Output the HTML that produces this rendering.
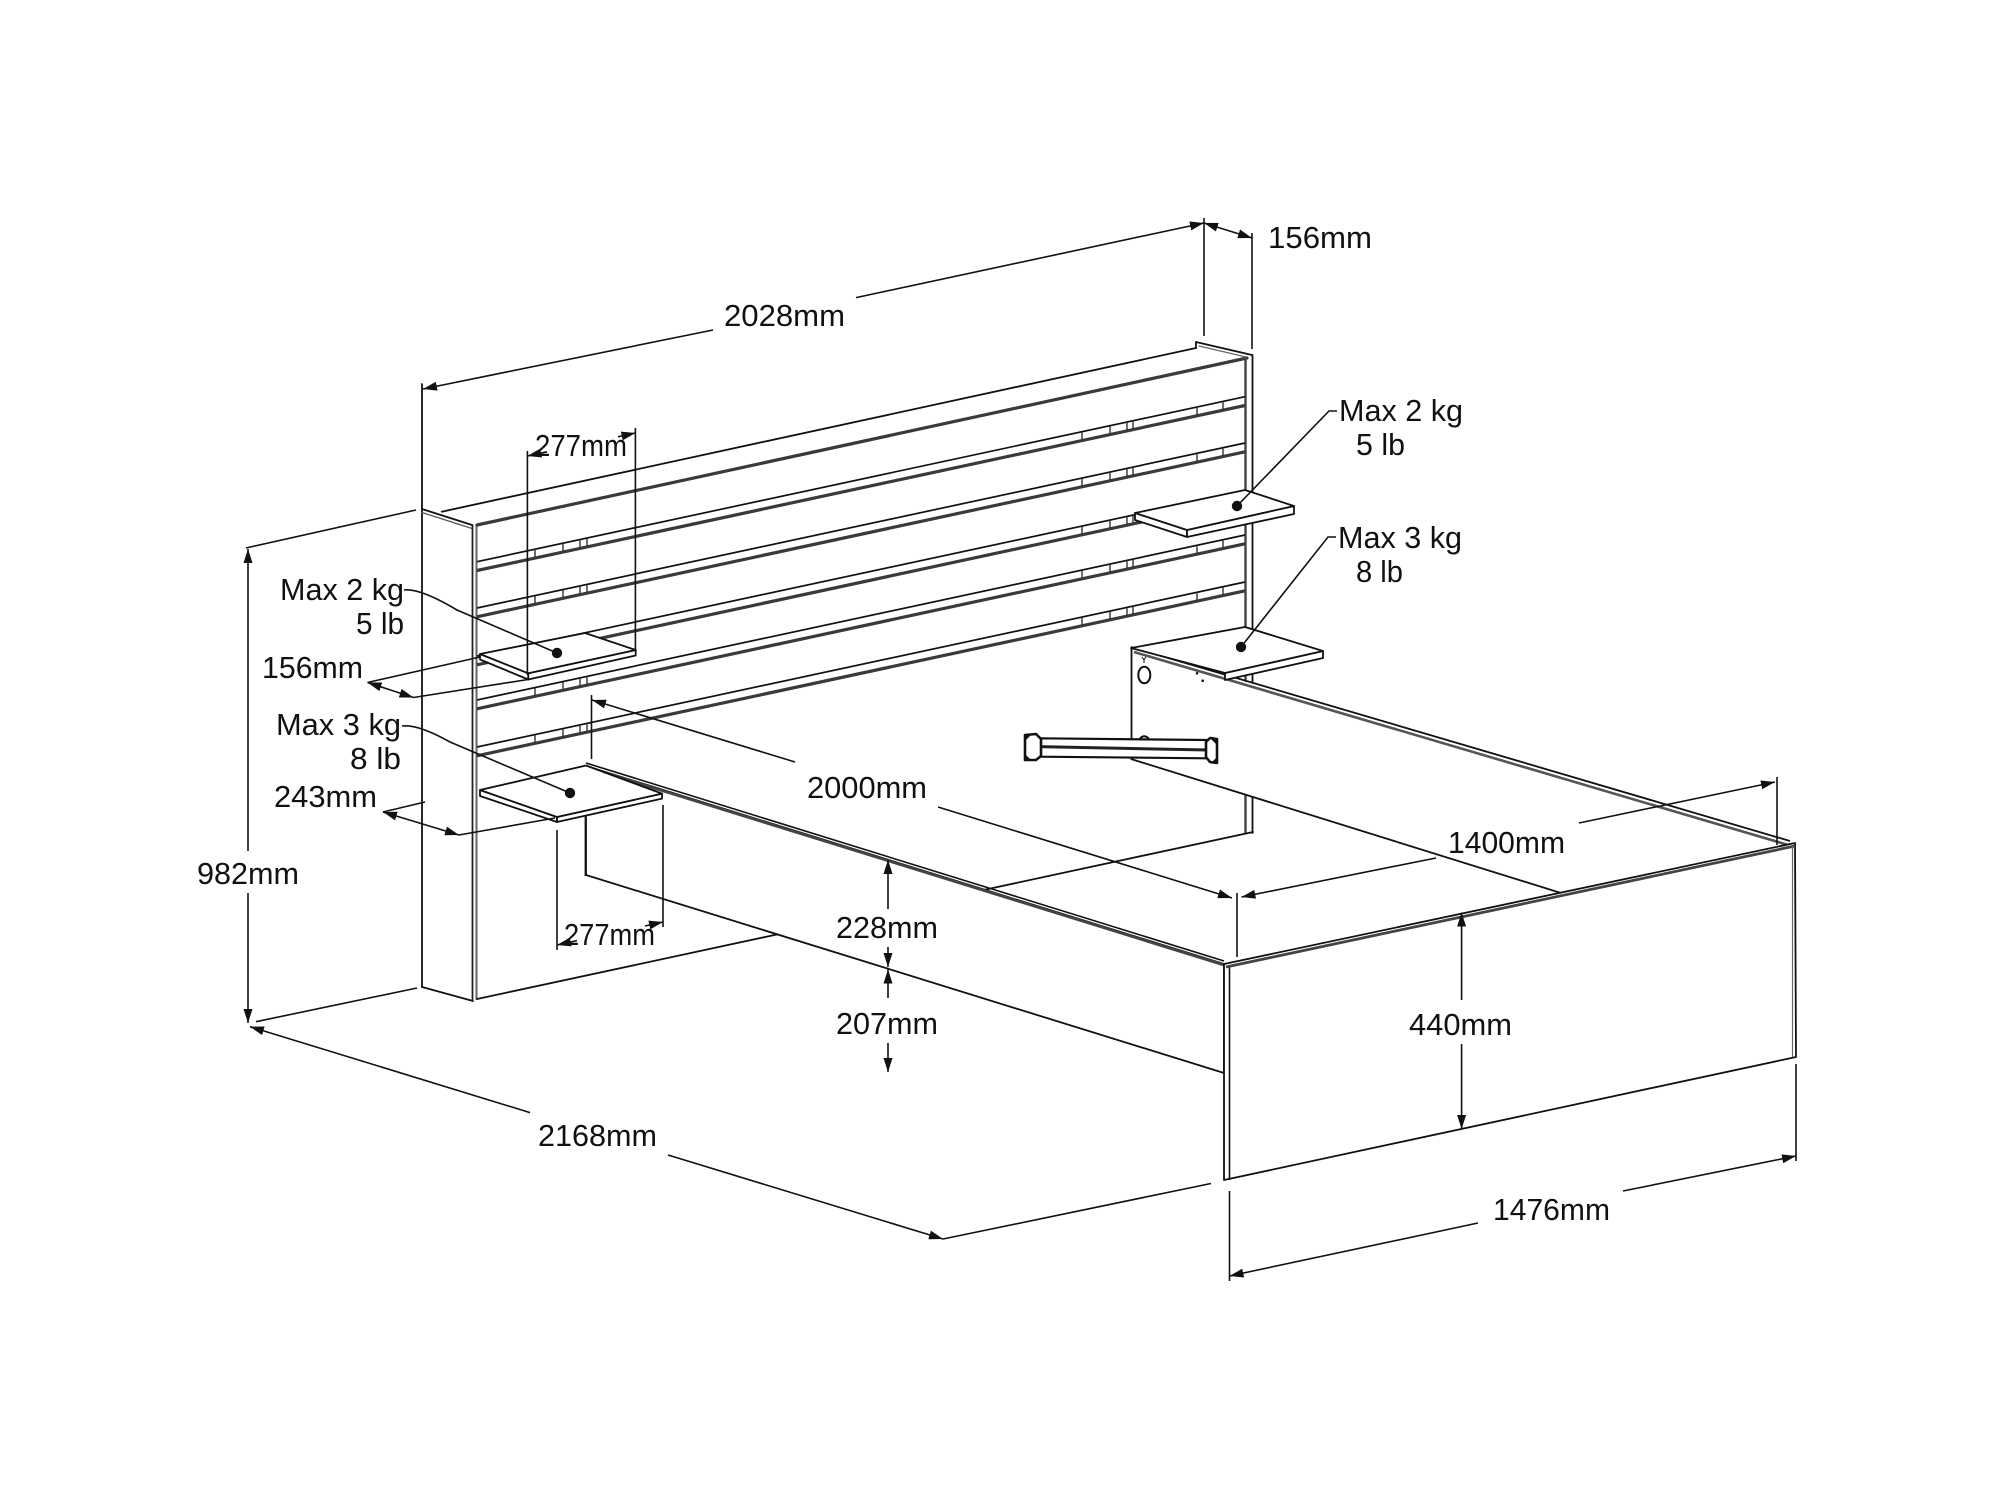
<!DOCTYPE html>
<html><head><meta charset="utf-8"><style>
html,body{margin:0;padding:0;background:#fff;}
svg{display:block;}
text{font-family:"Liberation Sans",Arial,sans-serif;font-size:31px;fill:#111;}
</style></head><body>
<svg width="1998" height="1498" viewBox="0 0 1998 1498" xmlns="http://www.w3.org/2000/svg">
<defs>
<marker id="a" viewBox="0 0 14 9" refX="14" refY="4.5" markerWidth="14" markerHeight="9" markerUnits="userSpaceOnUse" orient="auto"><path d="M0,0L14,4.5L0,9z" fill="#111"/></marker>
<g id="ticks" stroke="#222" stroke-width="1.3">
<line x1="535" y1="550" x2="535" y2="557"/><line x1="563" y1="544" x2="563" y2="551"/>
<line x1="580" y1="540.5" x2="580" y2="547.5"/><line x1="587" y1="539" x2="587" y2="546"/>
<line x1="1082" y1="432.5" x2="1082" y2="439.5"/><line x1="1110" y1="426.5" x2="1110" y2="433.5"/>
<line x1="1127" y1="423" x2="1127" y2="430"/><line x1="1133" y1="421.7" x2="1133" y2="428.7"/>
<line x1="1197" y1="408" x2="1197" y2="415"/><line x1="1223" y1="402.3" x2="1223" y2="409.3"/>
</g>
<g id="slat">
<line x1="477" y1="561.7" x2="1245" y2="396.7" stroke="#111" stroke-width="1.7"/>
<line x1="477" y1="570.5" x2="1245" y2="405.5" stroke="#3a3a3a" stroke-width="3.2"/>
<use href="#ticks"/>
</g>
</defs>
<rect width="1998" height="1498" fill="#fff"/>

<!-- ===== HEADBOARD ===== -->
<g fill="none" stroke="#111" stroke-width="1.8" stroke-linecap="round">
<!-- left side panel -->
<line x1="422" y1="384" x2="422" y2="987"/>
<line x1="422" y1="509" x2="472" y2="525"/>
<line x1="422" y1="512.5" x2="472" y2="528.5" stroke="#555" stroke-width="1.3"/>
<line x1="422" y1="987" x2="473" y2="1001"/>
<line x1="472.5" y1="525" x2="472.5" y2="1001" stroke="#222"/>
<line x1="476.5" y1="525" x2="476.5" y2="999" stroke="#666" stroke-width="2"/>
<!-- top edges -->
<line x1="441.7" y1="511.7" x2="1196" y2="348"/>
<line x1="477" y1="525" x2="1247" y2="358" stroke="#3a3a3a" stroke-width="3.2"/>
<!-- right cap -->
<line x1="1196" y1="342" x2="1252" y2="355"/>
<line x1="1196" y1="342" x2="1196" y2="348"/>
<line x1="1199" y1="346" x2="1246" y2="357" stroke="#666" stroke-width="1.3"/>
<!-- right side panel -->
<line x1="1245.5" y1="358" x2="1245.5" y2="833" stroke="#444" stroke-width="2.4"/>
<line x1="1252.5" y1="355" x2="1252.5" y2="833"/>
<!-- bottom edge -->
<line x1="477" y1="999" x2="1253" y2="832"/>
</g>
<!-- slats -->
<use href="#slat"/>
<use href="#slat" transform="translate(0,46.3)"/>
<use href="#slat" transform="translate(0,94.3)"/>
<use href="#slat" transform="translate(0,138.3)"/>
<use href="#slat" transform="translate(0,185.3)"/>

<!-- ===== BED RAILS ===== -->
<g stroke="#111" stroke-width="1.8" stroke-linejoin="round">
<!-- right (far) rail inner face -->
<polygon points="1131,648 1790,843 1561,893 1131,759" fill="#fff" stroke="none"/>
<line x1="1131.5" y1="647" x2="1131.5" y2="760"/>
<line x1="1131" y1="647" x2="1790" y2="841"/>
<line x1="1134" y1="652" x2="1790" y2="845.5" stroke="#555" stroke-width="2.6"/>
<line x1="1131" y1="759" x2="1561" y2="893"/>
<!-- holes -->
<ellipse cx="1144.3" cy="675" rx="6" ry="8.3" fill="#fff" stroke-width="2"/>
<path d="M1138.5,742 A6,8 0 0 1 1150,742" fill="none" stroke-width="2"/>
<path d="M1142,657 l2,3 l2,-3 M1144,660 v3" fill="none" stroke-width="1"/>
<circle cx="1197" cy="673.3" r="1.3" fill="#111" stroke="none"/>
<circle cx="1202.7" cy="680.7" r="1.3" fill="#111" stroke="none"/>
<!-- left (near) rail -->
<polygon points="586,766 1224,964 1224,1073 586,875" fill="#fff"/>
<line x1="586" y1="763" x2="1224" y2="961" stroke-width="1.6"/>
<line x1="586" y1="767" x2="1224" y2="965" stroke="#444" stroke-width="2.8"/>
</g>

<!-- ===== SHELVES ===== -->
<g fill="#fff" stroke="#111" stroke-width="1.8" stroke-linejoin="round">
<!-- upper left -->
<polygon points="480,654 480,659.5 528.3,679.5 528.3,673.3"/>
<polygon points="528.3,673.3 635.7,650 635.7,655.5 528.3,679.5"/>
<polygon points="480,654 585,633 635.7,650 528.3,673.3"/>
<!-- lower left -->
<polygon points="480,790 480,796 557,822 557,817"/>
<polygon points="557,817 662,793.6 662,798.6 557,822"/>
<polygon points="480,790 586,765.5 662,793.6 557,817"/>
<line x1="585.5" y1="817" x2="585.5" y2="876"/>
<!-- upper right -->
<polygon points="1135,513 1135,520 1187,537 1187,530"/>
<polygon points="1187,530 1294,506 1294,514 1187,537"/>
<polygon points="1135,513 1245,490 1294,506 1187,530"/>
<!-- lower right -->
<polygon points="1225,673 1323,651 1323,658 1225,680"/>
<polygon points="1131,648 1245,627 1323,651 1225,673"/>
</g>

<!-- ===== BAR ===== -->
<g stroke="#111" stroke-linejoin="round">
<polygon points="1040,738.3 1207,740 1207,758.3 1040,756.7" fill="#fff" stroke-width="2.2"/>
<line x1="1033" y1="746.5" x2="1208" y2="750" stroke="#222" stroke-width="3"/>
<path d="M1025,735 L1036,734 L1041,739 L1041,756 L1036,760 L1025,760 Z" fill="#fff" stroke-width="2.6"/>
<path d="M1025,735 L1031,735 L1025,741 Z M1025,754 L1031,760 L1025,760 Z" fill="#111" stroke="none"/>
<path d="M1217,739 L1210,738 L1206,742 L1206,757 L1210,762 L1217,763 Z" fill="#fff" stroke-width="2.6"/>
<path d="M1217,739 L1211,739 L1217,745 Z M1217,757 L1211,763 L1217,763 Z" fill="#111" stroke="none"/>
</g>

<!-- ===== FOOTBOARD ===== -->
<g stroke="#111" stroke-width="1.8" stroke-linejoin="round">
<polygon points="1224,964 1795,843 1796,1057 1224,1180" fill="#fff"/>
<line x1="1229.5" y1="967" x2="1229.5" y2="1180" stroke-width="1.6"/>
<line x1="1226" y1="967" x2="1795" y2="846" stroke="#444" stroke-width="2.8"/>
<line x1="1792.5" y1="846" x2="1792.5" y2="1057" stroke="#666" stroke-width="1.2"/>
</g>

<!-- ===== DIMENSION LINES ===== -->
<g stroke="#111" stroke-width="1.6" fill="none">
<!-- extension lines -->
<line x1="1204" y1="218" x2="1204" y2="336"/>
<line x1="1252" y1="233" x2="1252" y2="349"/>
<line x1="246" y1="548" x2="416" y2="510"/>
<line x1="256" y1="1021.7" x2="417" y2="988"/>
<line x1="943" y1="1239" x2="1211" y2="1183.5"/>
<line x1="1229.5" y1="1191" x2="1229.5" y2="1281"/>
<line x1="1796" y1="1064" x2="1796" y2="1161"/>
<line x1="1777" y1="777" x2="1777" y2="845"/>
<line x1="1237" y1="893" x2="1237" y2="957"/>
<line x1="591.5" y1="695" x2="591.5" y2="759"/>
<line x1="527.4" y1="451" x2="527.4" y2="675"/>
<line x1="635.4" y1="428" x2="635.4" y2="650"/>
<line x1="557" y1="830" x2="557" y2="950"/>
<line x1="663" y1="805" x2="663" y2="927"/>
<line x1="367.5" y1="682.5" x2="480" y2="657"/>
<line x1="413.5" y1="697.5" x2="528" y2="679.5"/>
<line x1="383" y1="812" x2="425" y2="802"/>
<line x1="459" y1="835" x2="555" y2="818"/>
<!-- arrows -->
<g marker-end="url(#a)">
<line x1="713" y1="330" x2="423" y2="389"/>
<line x1="856" y1="297.6" x2="1204" y2="223"/>
<line x1="1228" y1="230.5" x2="1204" y2="223"/>
<line x1="1228" y1="230.5" x2="1252" y2="238"/>
<line x1="248" y1="851" x2="248" y2="549"/>
<line x1="248" y1="893" x2="248" y2="1023"/>
<line x1="530" y1="1112.6" x2="250" y2="1026.7"/>
<line x1="668" y1="1155" x2="943" y2="1239"/>
<line x1="1478" y1="1223" x2="1229.5" y2="1276"/>
<line x1="1623" y1="1191" x2="1796" y2="1156"/>
<line x1="1461.6" y1="1000" x2="1461.6" y2="912.5"/>
<line x1="1461.6" y1="1044" x2="1461.6" y2="1129"/>
<line x1="1436" y1="858" x2="1241.5" y2="897"/>
<line x1="1579" y1="823" x2="1775" y2="782"/>
<line x1="795" y1="762" x2="592" y2="700"/>
<line x1="938" y1="807" x2="1232" y2="898"/>
<line x1="888" y1="909" x2="888" y2="860"/>
<line x1="888" y1="947" x2="888" y2="967"/>
<line x1="888" y1="998" x2="888" y2="969.5"/>
<line x1="888" y1="1043" x2="888" y2="1072"/>
<line x1="547" y1="451.8" x2="527.4" y2="456"/>
<line x1="618" y1="436.8" x2="635.4" y2="433"/>
<line x1="577" y1="940.6" x2="557" y2="945"/>
<line x1="645" y1="926" x2="663" y2="922"/>
<line x1="390.5" y1="690" x2="367.5" y2="682.5"/>
<line x1="390.5" y1="690" x2="413.5" y2="697.5"/>
<line x1="421" y1="823.5" x2="383" y2="812"/>
<line x1="421" y1="823.5" x2="459" y2="835"/>
</g>
<!-- leaders -->
<path d="M1337,411 L1329,411 L1237,506"/>
<path d="M1336,537 L1328,537 L1241,647"/>
<path d="M404,590 Q420,588 457,610 L557,653"/>
<path d="M402,726 Q418,724 450,742 L570,793"/>
</g>
<g fill="#111">
<circle cx="1237" cy="506" r="5.2"/>
<circle cx="1241" cy="647" r="5.2"/>
<circle cx="557" cy="653" r="5.2"/>
<circle cx="570" cy="793" r="5.2"/>
</g>

<!-- ===== TEXT ===== -->
<g>
<text x="724" y="326" textLength="121" lengthAdjust="spacingAndGlyphs">2028mm</text>
<text x="1268" y="248" textLength="104" lengthAdjust="spacingAndGlyphs">156mm</text>
<text x="1339" y="421" textLength="124" lengthAdjust="spacingAndGlyphs">Max 2 kg</text>
<text x="1356" y="455" textLength="49" lengthAdjust="spacingAndGlyphs">5 lb</text>
<text x="1338" y="548" textLength="124" lengthAdjust="spacingAndGlyphs">Max 3 kg</text>
<text x="1356" y="582" textLength="47" lengthAdjust="spacingAndGlyphs">8 lb</text>
<text x="280" y="600" textLength="124" lengthAdjust="spacingAndGlyphs">Max 2 kg</text>
<text x="356" y="634" textLength="48" lengthAdjust="spacingAndGlyphs">5 lb</text>
<text x="262" y="678" textLength="101" lengthAdjust="spacingAndGlyphs">156mm</text>
<text x="276" y="735" textLength="125" lengthAdjust="spacingAndGlyphs">Max 3 kg</text>
<text x="350" y="769" textLength="51" lengthAdjust="spacingAndGlyphs">8 lb</text>
<text x="274" y="807" textLength="103" lengthAdjust="spacingAndGlyphs">243mm</text>
<text x="197" y="884" textLength="102" lengthAdjust="spacingAndGlyphs">982mm</text>
<text x="535" y="456" textLength="92" lengthAdjust="spacingAndGlyphs">277mm</text>
<text x="564" y="945" textLength="91" lengthAdjust="spacingAndGlyphs">277mm</text>
<text x="807" y="798" textLength="120" lengthAdjust="spacingAndGlyphs">2000mm</text>
<text x="836" y="938" textLength="102" lengthAdjust="spacingAndGlyphs">228mm</text>
<text x="836" y="1034" textLength="102" lengthAdjust="spacingAndGlyphs">207mm</text>
<text x="1448" y="853" textLength="117" lengthAdjust="spacingAndGlyphs">1400mm</text>
<text x="1409" y="1035" textLength="103" lengthAdjust="spacingAndGlyphs">440mm</text>
<text x="538" y="1146" textLength="119" lengthAdjust="spacingAndGlyphs">2168mm</text>
<text x="1493" y="1220" textLength="117" lengthAdjust="spacingAndGlyphs">1476mm</text>
</g>
</svg>
</body></html>
